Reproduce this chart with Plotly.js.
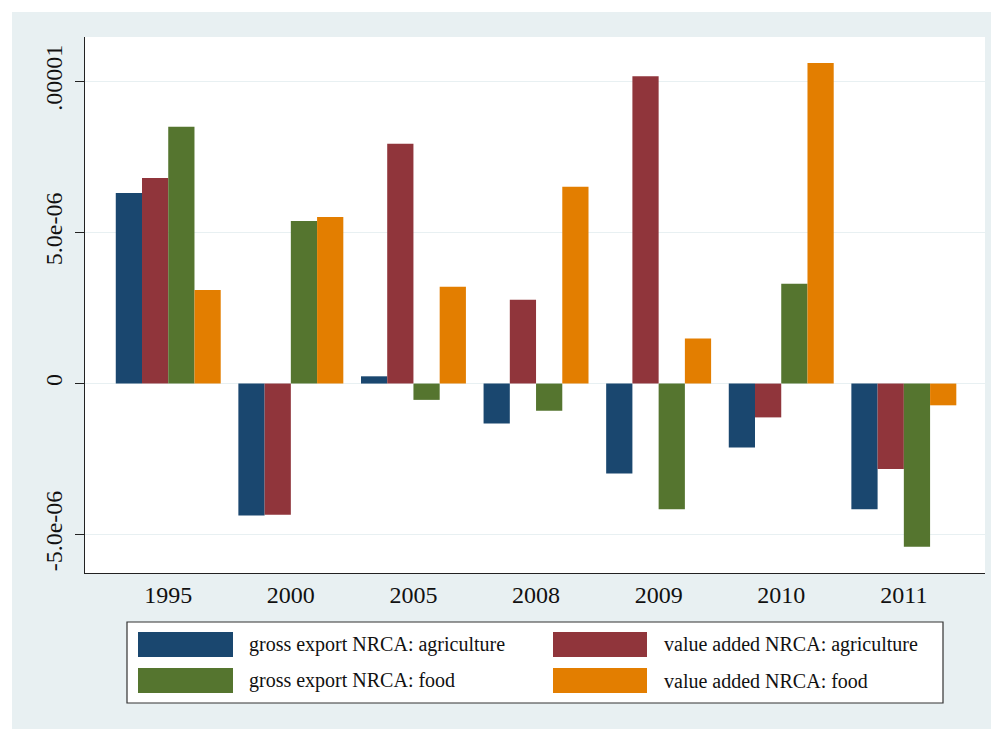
<!DOCTYPE html>
<html>
<head>
<meta charset="utf-8">
<script src="https://cdn.plot.ly/plotly-3.0.1.min.js"></script>
<style>
  html, body { margin: 0; padding: 0; background: #ffffff; }
  #chart { position: absolute; left: 12px; top: 12px; width: 979px; height: 717px; }
</style>
</head>
<body>
<div id="chart"></div>
<script>
// ---- data ----
const years = ['1995', '2000', '2005', '2008', '2009', '2010', '2011'];
const seriesNames = [
  'gross export NRCA: agriculture',
  'value added NRCA: agriculture',
  'gross export NRCA: food',
  'value added NRCA: food'
];
const grossAgri = [6.31e-6, -4.37e-6, 0.24e-6, -1.32e-6, -2.98e-6, -2.12e-6, -4.16e-6];
const vaAgri    = [6.80e-6, -4.34e-6, 7.94e-6, 2.77e-6, 10.17e-6, -1.12e-6, -2.83e-6];
const grossFood = [8.50e-6, 5.38e-6, -0.54e-6, -0.90e-6, -4.16e-6, 3.30e-6, -5.40e-6];
const vaFood    = [3.10e-6, 5.51e-6, 3.20e-6, 6.51e-6, 1.49e-6, 10.61e-6, -0.72e-6];
const yTickVals = [-5e-6, 0, 5e-6, 1e-5];
const yTickText = ['-5.0e-06', '0', '5.0e-06', '.00001'];

// ---- styles ----
const colors = ['#1a476f', '#90353b', '#55752f', '#e37e00'];
const FONT = 'Liberation Serif, Times New Roman, serif';
const allSeries = [grossAgri, vaAgri, grossFood, vaFood];

const traces = allSeries.map((vals, i) => ({
  type: 'bar',
  x: years,
  y: vals,
  name: seriesNames[i],
  marker: { color: colors[i], line: { width: 0 } },
  showlegend: false,
  hoverinfo: 'x+y+name'
}));

// pixel (page) -> paper helpers for the custom legend
const PX0 = 85, PX1 = 985, PY0 = 37, PY1 = 573;
const xp = ax => (ax - PX0) / (PX1 - PX0);
const yp = ay => (PY1 - ay) / (PY1 - PY0);

const shapes = [{
  type: 'rect', xref: 'paper', yref: 'paper',
  x0: xp(127), x1: xp(943), y0: yp(622), y1: yp(703),
  line: { color: '#333333', width: 1.2 }, fillcolor: '#ffffff', layer: 'above'
}];
const annotations = [];
const colX = [[138, 233, 247], [553, 647, 662]];
const rowY = [[632, 657], [668, 693]];
for (let i = 0; i < 4; i++) {
  const c = i % 2, r = Math.floor(i / 2);
  shapes.push({
    type: 'rect', xref: 'paper', yref: 'paper',
    x0: xp(colX[c][0]), x1: xp(colX[c][1]), y0: yp(rowY[r][0]), y1: yp(rowY[r][1]),
    line: { width: 0 }, fillcolor: colors[i], layer: 'above'
  });
  annotations.push({
    xref: 'paper', yref: 'paper',
    x: xp(colX[c][2]), y: yp((rowY[r][0] + rowY[r][1]) / 2),
    xanchor: 'left', yanchor: 'middle', showarrow: false,
    text: seriesNames[i],
    font: { family: FONT, size: 20, color: '#111111' }
  });
}

const layout = {
  width: 979, height: 717,
  margin: { l: 73, r: 6, t: 25, b: 156 },
  paper_bgcolor: '#e8f0f2',
  plot_bgcolor: '#ffffff',
  barmode: 'group',
  bargap: 0.144,
  bargroupgap: 0,
  font: { family: FONT, color: '#111111' },
  xaxis: {
    type: 'category',
    range: [-0.679, 6.662],
    showline: true, linecolor: '#222222', linewidth: 1.2,
    ticks: '', showgrid: false, zeroline: false,
    tickfont: { family: FONT, size: 24, color: '#111111' },
    ticklabelstandoff: 0
  },
  yaxis: {
    range: [-6.27e-6, 11.47e-6],
    tickvals: yTickVals, ticktext: yTickText,
    tickangle: -90,
    ticks: 'outside', ticklen: 9, tickwidth: 1.2, tickcolor: '#222222',
    showline: true, linecolor: '#222222', linewidth: 1.2,
    showgrid: true, gridcolor: '#e8f0f2', gridwidth: 1.5,
    zeroline: false,
    tickfont: { family: FONT, size: 24, color: '#111111' },
    ticklabelstandoff: 3
  },
  shapes: shapes,
  annotations: annotations
};

Plotly.newPlot('chart', traces, layout, { displayModeBar: false, staticPlot: true });
</script>
</body>
</html>
